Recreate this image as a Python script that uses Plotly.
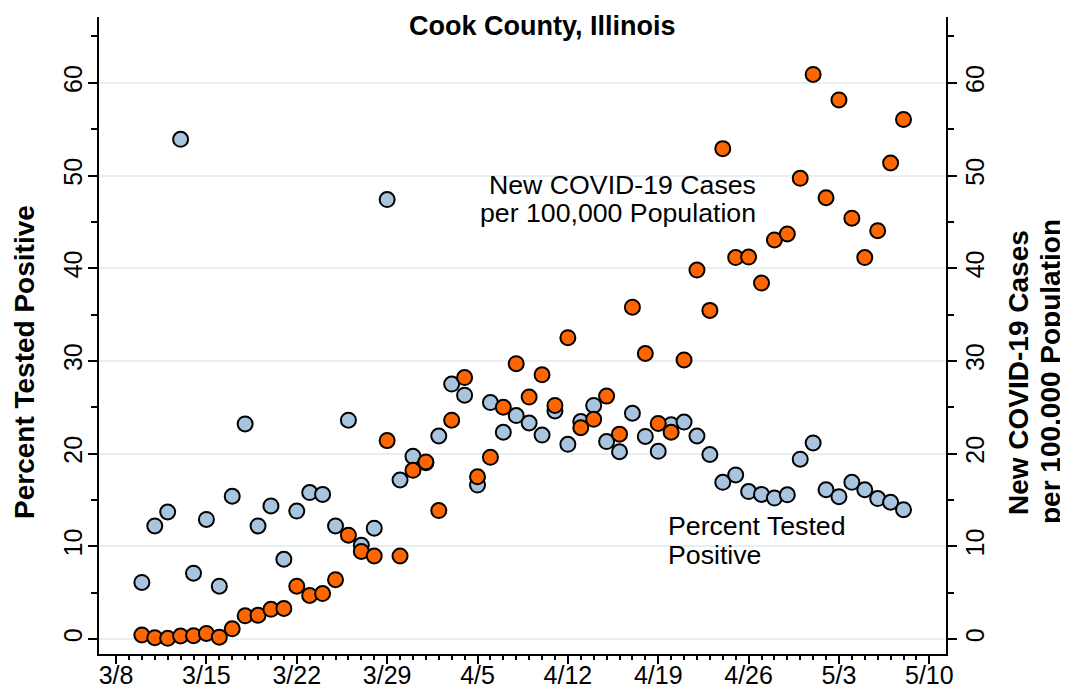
"""Cook County COVID-19 scatter: percent tested positive vs new cases per 100k.

Stata-style dual-axis scatter rebuilt with Plotly.
"""

import pandas as pd
import plotly.graph_objects as go

# Daily observations, starting 2020-03-10
START_DATE = "2020-03-10"

PCT_POSITIVE = [
    6.1, 12.2, 13.7, 53.9, 7.1, 12.9, 5.7, 15.4, 23.2, 12.2, 14.35,
    8.6, 13.8, 15.8, 15.6, 12.2, 23.6, 10.1, 11.95, 47.4, 17.15, 19.7,
    19.0, 21.9, 27.5, 26.3, 16.6, 25.5, 22.3, 24.1, 23.3, 22.0, 24.6,
    21.0, 23.45, 25.2, 21.3, 20.2, 24.35, 21.85, 20.25, 23.1, 23.4, 21.9,
    19.9, 16.9, 17.7, 15.9, 15.6, 15.2, 15.55, 19.4,
    21.15, 16.1, 15.35, 16.9, 16.1, 15.15, 14.75, 13.95,
]

NEW_CASES_PER_100K = [
    0.43, 0.14, 0.07, 0.32, 0.36, 0.6, 0.2, 1.1, 2.5, 2.55, 3.2,
    3.3, 5.7, 4.7, 4.9, 6.4, 11.2, 9.45, 8.95, 21.4, 8.95, 18.2,
    19.1, 13.85, 23.6, 28.2, 17.5, 19.6, 25.0, 29.7, 26.1, 28.5, 25.2,
    32.5, 22.8, 23.7, 26.2, 22.1, 35.8, 30.8, 23.25, 22.3, 30.1, 39.8,
    35.45, 52.9, 41.15, 41.2, 38.4, 43.05, 43.7, 49.7,
    60.9, 47.6, 58.15, 45.4, 41.15, 44.05, 51.35, 56.05,
]

Y_TICKS = [0, 10, 20, 30, 40, 50, 60]

# Styling
FONT = "Liberation Sans, Arial, Helvetica, sans-serif"
BLUE = "#A8C4DF"
ORANGE = "#FF6600"
GRID = "#E6EFF1"

# The page body has an 8px margin, so the figure is shrunk to fit the window
BODY = 8
W, H = 1068 - BODY, 694 - BODY
MARGIN = dict(l=99 - BODY, r=122, t=17 - BODY, b=40)


def _paper_x(px):
    """Screen pixel -> paper x."""
    return (px - BODY - MARGIN["l"]) / (W - MARGIN["l"] - MARGIN["r"])


def _paper_y(py):
    """Screen pixel -> paper y."""
    return (H - MARGIN["b"] - (py - BODY)) / (H - MARGIN["t"] - MARGIN["b"])


dates = pd.date_range(START_DATE, periods=len(PCT_POSITIVE), freq="D")

first_tick = pd.Timestamp("2020-03-08")
last_tick = pd.Timestamp("2020-05-10")
x_range = [first_tick - pd.Timedelta(hours=31.7), last_tick + pd.Timedelta(hours=31)]
minor_days = list(pd.date_range(first_tick, last_tick, freq="D"))

y_range = [-1.62, 67.1]

marker_line = dict(color="black", width=2)

fig = go.Figure()

fig.add_trace(
    go.Scatter(
        x=dates,
        y=PCT_POSITIVE,
        mode="markers",
        name="Percent Tested Positive",
        marker=dict(size=15, color=BLUE, line=marker_line),
        yaxis="y",
    )
)
fig.add_trace(
    go.Scatter(
        x=dates,
        y=NEW_CASES_PER_100K,
        mode="markers",
        name="New COVID-19 Cases per 100,000 Population",
        marker=dict(size=15, color=ORANGE, line=marker_line),
        yaxis="y2",
    )
)

y_common = dict(
    range=y_range,
    tickvals=Y_TICKS,
    tickangle=-90,
    ticks="outside",
    ticklen=9,
    tickwidth=1.5,
    tickcolor="black",
    showline=True,
    linecolor="black",
    linewidth=1.5,
    zeroline=False,
    automargin=False,
    tickfont=dict(family=FONT, size=25, color="black"),
    minor=dict(dtick=5, ticks="outside", ticklen=6, tickwidth=1.5,
               tickcolor="black", showgrid=False),
)

fig.update_layout(
    width=W,
    height=H,
    margin=MARGIN,
    plot_bgcolor="white",
    paper_bgcolor="white",
    showlegend=False,
    font=dict(family=FONT, color="black"),
    xaxis=dict(
        type="date",
        range=x_range,
        tick0=first_tick,
        dtick=7 * 86400000,
        tickformat="%-m/%-d",
        ticks="outside",
        ticklen=8,
        tickwidth=1.5,
        tickcolor="black",
        showline=True,
        linecolor="black",
        linewidth=1.5,
        showgrid=False,
        zeroline=False,
        automargin=False,
        ticklabelstandoff=-10,
        tickfont=dict(family=FONT, size=25, color="black"),
        minor=dict(tickmode="array", tickvals=minor_days, ticks="outside",
                   ticklen=4, tickwidth=1.5, tickcolor="black", showgrid=False),
    ),
    yaxis=dict(showgrid=True, gridcolor=GRID, gridwidth=2, side="left",
               ticklabelstandoff=-4, **y_common),
    yaxis2=dict(showgrid=False, overlaying="y", side="right",
                ticklabelstandoff=-3, **y_common),
)

# Title and axis titles as free text
annotations = [
    dict(text="<b>Cook County, Illinois</b>", x=_paper_x(542), y=_paper_y(26),
         font=dict(size=27)),
    dict(text="<b>Percent Tested Positive</b>", x=_paper_x(24), y=_paper_y(362),
         textangle=-90, font=dict(size=28)),
    dict(text="<b>New COVID-19 Cases</b>", x=_paper_x(1018), y=_paper_y(372),
         textangle=-90, font=dict(size=28)),
    dict(text="<b>per 100,000 Population</b>", x=_paper_x(1050), y=_paper_y(372),
         textangle=-90, font=dict(size=28)),
    # In-plot series labels
    dict(text="New COVID-19 Cases", x=_paper_x(758), y=_paper_y(185),
         xanchor="right", font=dict(size=26.7)),
    dict(text="per 100,000 Population", x=_paper_x(758), y=_paper_y(213),
         xanchor="right", font=dict(size=26.7)),
    dict(text="Percent Tested", x=_paper_x(666), y=_paper_y(526),
         xanchor="left", font=dict(size=26.7)),
    dict(text="Positive", x=_paper_x(666), y=_paper_y(555),
         xanchor="left", font=dict(size=26.7)),
]
for a in annotations:
    a.setdefault("xanchor", "center")
    a.update(xref="paper", yref="paper", yanchor="middle", showarrow=False)
    a["font"].update(family=FONT, color="black")
fig.update_layout(annotations=annotations)

fig.write_html("out.html")
